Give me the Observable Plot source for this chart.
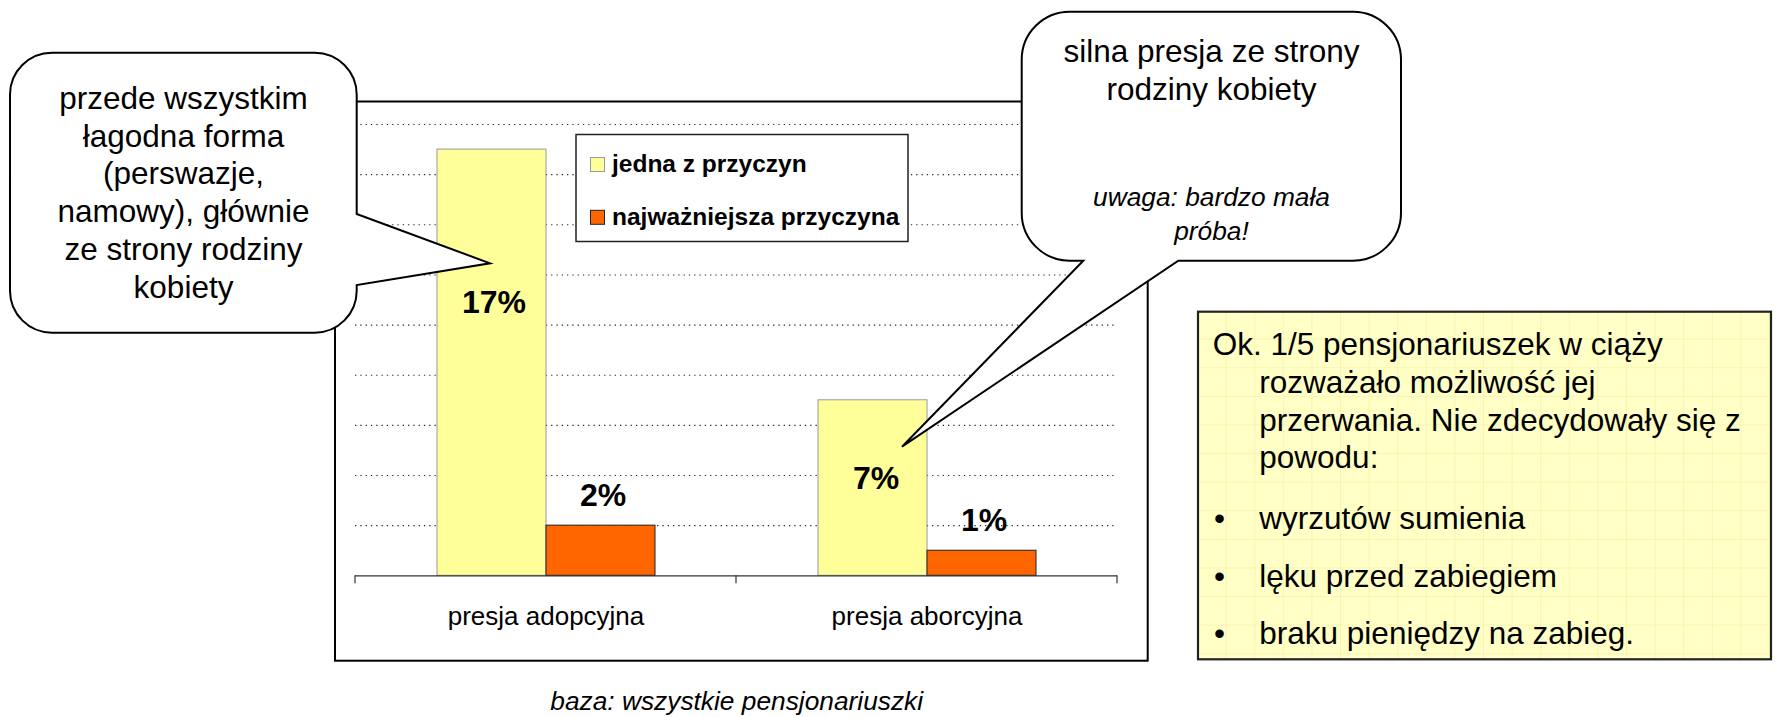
<!DOCTYPE html>
<html>
<head>
<meta charset="utf-8">
<script src="https://cdn.jsdelivr.net/npm/d3@7"></script>
<script src="https://cdn.jsdelivr.net/npm/@observablehq/plot@0.6"></script>
<style>
  html, body { margin: 0; padding: 0; background: #fff; }
  #root { position: relative; width: 1777px; height: 717px; overflow: hidden;
          font-family: "Liberation Sans", Arial, Helvetica, sans-serif; }
  #chart { position: absolute; left: 335px; top: 101px; }
  #overlay { position: absolute; left: 0; top: 0; pointer-events: none; }
</style>
</head>
<body>
<div id="root">
  <div id="chart"></div>
  <svg id="overlay" width="1777" height="717"></svg>
</div>
<script>
// ---------- data ----------
const categories = ["presja adopcyjna", "presja aborcyjna"];
const series = ["jedna z przyczyn", "najważniejsza przyczyna"];
const jednaZPrzyczyn = [17, 7];          // %
const najwazniejszaPrzyczyna = [2, 1];   // %
const gridTicks = [2, 4, 6, 8, 10, 12, 14, 16, 18];
const yMax = 18;

const bubbleLeftLines = ["przede wszystkim", "łagodna forma", "(perswazje,", "namowy), głównie", "ze strony rodziny", "kobiety"];
const bubbleRightLines = ["silna presja ze strony", "rodziny kobiety"];
const bubbleRightNote = ["uwaga: bardzo mała", "próba!"];
const boxIntro = ["Ok. 1/5 pensjonariuszek w ciąży", "rozważało możliwość jej", "przerwania. Nie zdecydowały się z", "powodu:"];
const boxBullets = ["wyrzutów sumienia", "lęku przed zabiegiem", "braku pieniędzy na zabieg."];
const captionText = "baza: wszystkie pensjonariuszki";

// ---------- styles ----------
const FONT = '"Liberation Sans", Arial, Helvetica, sans-serif';
const fillOf = {[series[0]]: "#FFFF99", [series[1]]: "#FF6600"};
const strokeOf = {[series[0]]: "#9a9a9a", [series[1]]: "#222"};

const table = categories.flatMap((c, i) => [
  {category: c, series: series[0], value: jednaZPrzyczyn[i]},
  {category: c, series: series[1], value: najwazniejszaPrzyczyna[i]}
]);
const pick = (c, s) => table.filter(d => d.category === c && d.series === s);
const pct = d => d.value + "%";

const labelStyle = {fx: "category", x: "series", y: "value", text: pct, lineAnchor: "bottom",
  fontSize: 32, fontWeight: "bold", fill: "#000"};

const chart = Plot.plot({
  width: 813, height: 560,
  marginLeft: 20, marginRight: 31, marginTop: 23, marginBottom: 85.7,
  style: {fontFamily: FONT, background: "transparent", overflow: "visible"},
  fx: {domain: categories, padding: 0, axis: null},
  x: {domain: series, paddingInner: 0, paddingOuter: 0.743, axis: null},
  y: {domain: [0, yMax], axis: null},
  marks: [
    Plot.ruleY(gridTicks, {stroke: "#000", strokeOpacity: 0.85, strokeWidth: 1.1, strokeDasharray: "1.3 4"}),
    Plot.barY(table.filter(d => d.series === series[0]), {fx: "category", x: "series", y: "value",
      fill: fillOf[series[0]], stroke: strokeOf[series[0]], strokeWidth: 1}),
    Plot.barY(table.filter(d => d.series === series[1]), {fx: "category", x: "series", y: "value",
      fill: fillOf[series[1]], stroke: strokeOf[series[1]], strokeWidth: 1}),
    Plot.ruleY([0], {stroke: "#333", strokeWidth: 1.2}),
    Plot.text(pick(categories[0], series[0]), {...labelStyle, dy: 163, dx: 2}),
    Plot.text(pick(categories[1], series[0]), {...labelStyle, dy: 88.6, dx: 3}),
    Plot.text(table.filter(d => d.series === series[1]), {...labelStyle, dy: -19.5, dx: 2}),
    Plot.text(categories, {fx: d => d, text: d => d, frameAnchor: "bottom", lineAnchor: "bottom",
      dy: 49.5, fontSize: 26, fill: "#000"})
  ]
});
document.getElementById("chart").appendChild(chart);

// category-boundary ticks (Excel style), placed through Plot's own scales
try {
  const fx = chart.scale("fx"), y = chart.scale("y");
  const y0 = y.apply(0);
  const step = fx.step ?? fx.bandwidth;
  const edges = categories.map(c => fx.apply(c));
  edges.push(edges[edges.length - 1] + step);
  d3.select(chart).append("g")
    .selectAll("line").data(edges).join("line")
    .attr("x1", d => d).attr("x2", d => d)
    .attr("y1", y0).attr("y2", y0 + 8)
    .attr("stroke", "#333").attr("stroke-width", 1.2);
} catch (e) { console.error(e); }

// ---------- overlay: frame, legend, callouts, note box, caption ----------
const ov = d3.select("#overlay");
const defs = ov.append("defs");
const pat = defs.append("pattern").attr("id", "grid").attr("patternUnits", "userSpaceOnUse")
  .attr("x", 1198).attr("y", 311).attr("width", 28.6).attr("height", 28.6);
pat.append("rect").attr("width", 28.6).attr("height", 28.6).attr("fill", "#FFFFC6");
pat.append("path").attr("d", "M28.6 0V28.6M0 28.6H28.6").attr("stroke", "#F1EBA4").attr("stroke-width", 1).attr("fill", "none");

// chart area frame
ov.append("rect").attr("x", 335).attr("y", 101.5).attr("width", 812.7).attr("height", 559.2)
  .attr("fill", "none").attr("stroke", "#000").attr("stroke-width", 2);

// legend
const lg = ov.append("g");
lg.append("rect").attr("x", 576).attr("y", 134.5).attr("width", 332).attr("height", 107)
  .attr("fill", "#fff").attr("stroke", "#222").attr("stroke-width", 1.5);
series.forEach((s, i) => {
  lg.append("rect").attr("x", 590.5).attr("y", 157.5 + i * 52.8).attr("width", 14).attr("height", 14)
    .attr("fill", fillOf[s]).attr("stroke", strokeOf[s]).attr("stroke-width", 1);
  lg.append("text").attr("x", 612).attr("y", 172.4 + i * 52.8).text(s)
    .attr("font-family", FONT).attr("font-size", 24.5).attr("font-weight", "bold").attr("fill", "#000");
});

// left callout (tail on right side)
{
  const L = 10, T = 52.7, R = 356.7, B = 332.7, r = 42;
  const d = `M${L + r},${T} H${R - r} A${r},${r} 0 0 1 ${R},${T + r} V214 L490,263.3 L${R},285 V${B - r}
    A${r},${r} 0 0 1 ${R - r},${B} H${L + r} A${r},${r} 0 0 1 ${L},${B - r} V${T + r} A${r},${r} 0 0 1 ${L + r},${T} Z`;
  ov.append("path").attr("d", d).attr("fill", "#fff").attr("stroke", "#000").attr("stroke-width", 2);
  ov.append("g").selectAll("text").data(bubbleLeftLines).join("text")
    .attr("x", 183.5).attr("y", (t, i) => 109 + i * 37.7).attr("text-anchor", "middle")
    .attr("font-family", FONT).attr("font-size", 31.5).attr("fill", "#000").text(t => t);
}

// right callout (tail on bottom side)
{
  const L = 1021.7, T = 11.7, R = 1401, B = 260.7, r = 48;
  const d = `M${L + r},${T} H${R - r} A${r},${r} 0 0 1 ${R},${T + r} V${B - r} A${r},${r} 0 0 1 ${R - r},${B}
    H1178.3 L902,446.7 L1083.3,${B} H${L + r} A${r},${r} 0 0 1 ${L},${B - r} V${T + r} A${r},${r} 0 0 1 ${L + r},${T} Z`;
  ov.append("path").attr("d", d).attr("fill", "#fff").attr("stroke", "#000").attr("stroke-width", 2);
  ov.append("g").selectAll("text").data(bubbleRightLines).join("text")
    .attr("x", 1211.5).attr("y", (t, i) => 62 + i * 37.5).attr("text-anchor", "middle")
    .attr("font-family", FONT).attr("font-size", 31.5).attr("fill", "#000").text(t => t);
  ov.append("g").selectAll("text").data(bubbleRightNote).join("text")
    .attr("x", 1211.5).attr("y", (t, i) => 205.5 + i * 34.8).attr("text-anchor", "middle")
    .attr("font-family", FONT).attr("font-size", 26.3).attr("font-style", "italic").attr("fill", "#000").text(t => t);
}

// note box
{
  ov.append("rect").attr("x", 1198).attr("y", 311.7).attr("width", 573).attr("height", 347.6)
    .attr("fill", "url(#grid)").attr("stroke", "#222").attr("stroke-width", 2.2);
  const g = ov.append("g").attr("font-family", FONT).attr("font-size", 31.5).attr("fill", "#000");
  boxIntro.forEach((t, i) => {
    g.append("text").attr("x", i === 0 ? 1212.7 : 1259.3).attr("y", 355 + i * 37.8).text(t);
  });
  const by = [528.5, 586.5, 643.5];
  boxBullets.forEach((t, i) => {
    g.append("text").attr("x", 1214).attr("y", by[i]).text("•");
    g.append("text").attr("x", 1259.3).attr("y", by[i]).text(t);
  });
}

// caption
ov.append("text").attr("x", 736.7).attr("y", 709.5).attr("text-anchor", "middle")
  .attr("font-family", FONT).attr("font-size", 26.3).attr("font-style", "italic").attr("fill", "#000")
  .text(captionText);
</script>
</body>
</html>
